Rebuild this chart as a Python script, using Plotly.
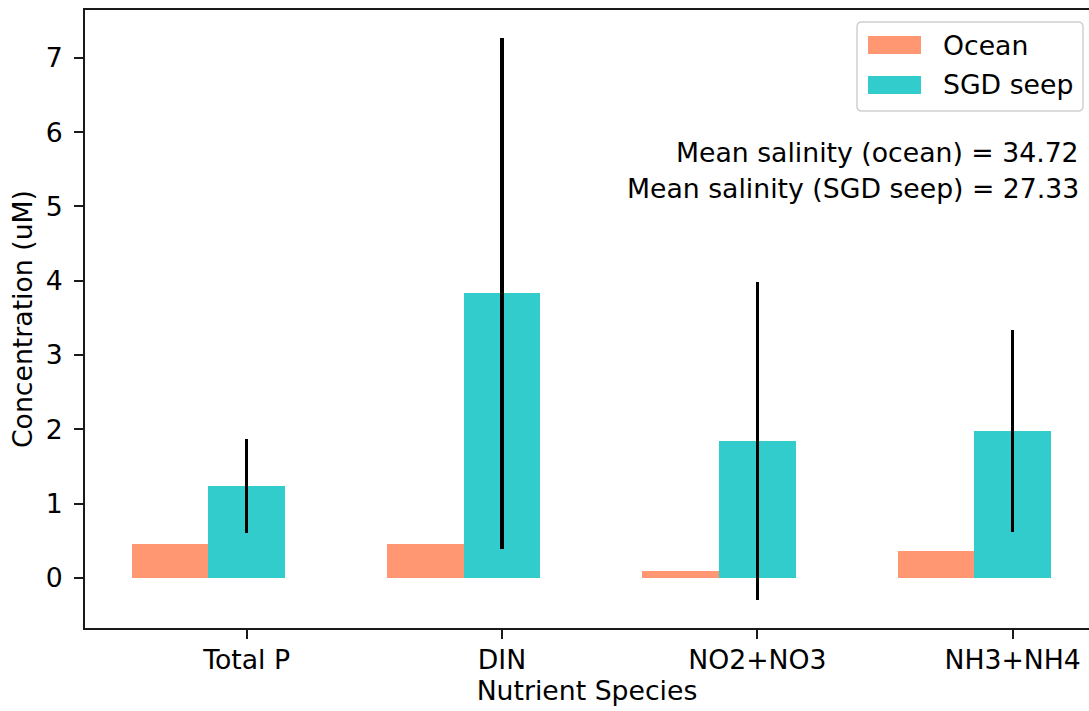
import plotly.graph_objects as go

# ---- data ----
categories = ["Total P", "DIN", "NO2+NO3", "NH3+NH4"]
ocean = [0.46, 0.46, 0.09, 0.36]
sgd = [1.24, 3.83, 1.84, 1.98]
sgd_err = [0.63, 3.445, 2.14, 1.36]
series_names = ["Ocean", "SGD seep"]
salinity_ocean = 34.72
salinity_sgd = 27.33
yticks = [0, 1, 2, 3, 4, 5, 6, 7]

# ---- style / layout ----
W, H = 1089, 711
ML, MR, MT, MB = 85, 0, 10, 83
PW, PH = W - ML - MR, H - MT - MB
FONT = "DejaVu Sans"
FS = 26.7
C_OCEAN = "#FF9773"
C_SGD = "#33CCCC"
BAR_W = 0.3
AX = "#1a1a1a"


def px_x(p):
    return (p - ML) / PW


def px_y(p):
    return (H - MB - p) / PH


idx = list(range(len(categories)))
x_ocean = [i - BAR_W for i in idx]
x_sgd = idx

fig = go.Figure()
fig.add_trace(go.Bar(
    x=x_ocean, y=ocean, width=BAR_W, name=series_names[0],
    marker=dict(color=C_OCEAN, line=dict(width=0)), showlegend=False,
))
fig.add_trace(go.Bar(
    x=x_sgd, y=sgd, width=BAR_W, name=series_names[1],
    marker=dict(color=C_SGD, line=dict(width=0)), showlegend=False,
    error_y=dict(type="data", array=sgd_err, symmetric=True,
                 color="black", thickness=3.5, width=0),
))

# custom matplotlib-like legend
bx0, by0, bx1, by1 = 857, 22, 1083, 111
r = 5
x0, x1 = px_x(bx0), px_x(bx1)
y0, y1 = px_y(by0), px_y(by1)
rx, ry = r / PW, r / PH
path = (f"M {x0+rx},{y0} L {x1-rx},{y0} Q {x1},{y0} {x1},{y0-ry} "
        f"L {x1},{y1+ry} Q {x1},{y1} {x1-rx},{y1} L {x0+rx},{y1} "
        f"Q {x0},{y1} {x0},{y1+ry} L {x0},{y0-ry} Q {x0},{y0} {x0+rx},{y0} Z")
fig.add_shape(type="path", path=path, xref="paper", yref="paper",
              line=dict(color="#d0d0d0", width=1.5), fillcolor="rgba(255,255,255,0.8)",
              layer="above")
for (py0, py1, col, name, cy) in [(36, 54, C_OCEAN, series_names[0], 45),
                                  (76, 94, C_SGD, series_names[1], 85)]:
    fig.add_shape(type="rect", xref="paper", yref="paper",
                  x0=px_x(868), x1=px_x(921), y0=px_y(py0), y1=px_y(py1),
                  fillcolor=col, line=dict(width=0), layer="above")
    fig.add_annotation(text=name, xref="paper", yref="paper",
                       x=px_x(941), y=px_y(cy), xanchor="left", yanchor="middle",
                       showarrow=False, font=dict(family=FONT, size=FS, color="black"))

fig.add_annotation(text=f"Mean salinity (ocean) = {salinity_ocean:.2f}",
                   xref="paper", yref="paper", x=px_x(1081), y=px_y(152),
                   xanchor="right", yanchor="middle", showarrow=False,
                   font=dict(family=FONT, size=FS, color="black"))
fig.add_annotation(text=f"Mean salinity (SGD seep) = {salinity_sgd:.2f}",
                   xref="paper", yref="paper", x=px_x(1081), y=px_y(189),
                   xanchor="right", yanchor="middle", showarrow=False,
                   font=dict(family=FONT, size=FS, color="black"))

fig.update_layout(
    width=W, height=H,
    margin=dict(l=ML, r=MR, t=MT, b=MB, pad=0, autoexpand=False),
    paper_bgcolor="white", plot_bgcolor="white",
    barmode="overlay", bargap=0,
    font=dict(family=FONT, size=FS, color="black"),
    xaxis=dict(
        range=[-0.633, 3.299], tickmode="array", tickvals=idx, ticktext=categories,
        showgrid=False, zeroline=False, showline=True, linecolor=AX, linewidth=2,
        mirror=True, ticks="outside", ticklen=9, tickwidth=2, tickcolor=AX,
        ticklabelstandoff=-2, automargin=False,
        title=dict(text="Nutrient Species", font=dict(family=FONT, size=FS), standoff=3),
    ),
    yaxis=dict(
        range=[-0.676, 7.646], tickmode="array", tickvals=yticks,
        ticktext=[str(v) for v in yticks],
        showgrid=False, zeroline=False, showline=True, linecolor=AX, linewidth=2,
        mirror=False, ticks="outside", ticklen=9, tickwidth=2, tickcolor=AX,
        ticklabelstandoff=6, automargin=False,
        title=dict(text="Concentration (uM)", font=dict(family=FONT, size=FS), standoff=5),
    ),
)

fig.write_html(
    "out.html",
    config={"displayModeBar": False},
    post_script="document.body.style.margin='0';document.body.style.overflow='hidden';",
)
